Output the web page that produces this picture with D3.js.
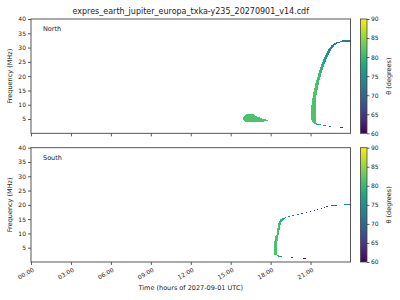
<!DOCTYPE html>
<html><head><meta charset="utf-8">
<script src="https://cdn.jsdelivr.net/npm/d3@7"></script>
<style>
body{margin:0;background:#fff}
svg{display:block}
text{font-family:"DejaVu Sans",sans-serif;fill:#222}
</style>
</head><body>
<svg id="c" width="400" height="300"></svg>
<script>
// ---------------- data ----------------
const chartTitle = "expres_earth_jupiter_europa_txka-y235_20270901_v14.cdf";
const panelNames = ["North", "South"];
const yTicks = [5, 10, 15, 20, 25, 30, 35, 40];
const xTickHours = [0, 3, 6, 9, 12, 15, 18, 21];
const xTickLabels = ["00:00", "03:00", "06:00", "09:00", "12:00", "15:00", "18:00", "21:00"];
const cbTicks = [60, 65, 70, 75, 80, 85, 90];
const xLabel = "Time (hours of 2027-09-01 UTC)";
const yLabel = "Frequency (MHz)";
const cbLabel = "θ (degrees)";

// cells: [tStart (h), tEnd (h), fLow (MHz), fHigh (MHz), theta (deg)]
const northCells = [
  [15.900,15.975,4.8,5.8,81.5],[15.975,16.050,4.3,6.2,81.5],[16.050,16.125,4.1,6.5,81.5],
  [16.125,16.200,4.0,6.7,81.5],[16.200,16.650,3.9,6.75,81.5],[16.650,16.725,3.9,6.6,81.5],
  [16.725,16.800,3.9,6.4,81.5],[16.800,16.875,3.9,6.2,81.5],[16.875,16.950,3.9,6.0,81.5],
  [16.950,17.025,3.95,5.85,81.5],[17.025,17.100,4.0,5.7,81.5],[17.100,17.175,4.0,5.55,81.5],
  [17.175,17.250,4.0,5.4,81.5],[17.250,17.325,4.05,5.25,81.5],[17.325,17.400,4.1,5.1,81.5],
  [17.400,17.475,4.1,5.0,81.5],[17.475,17.550,4.15,4.9,81.5],[17.550,17.625,4.2,4.85,81.5],
  [17.625,17.700,4.2,4.8,81.5],[17.700,17.775,4.25,4.75,81.5],
  [21.000,21.075,4.5,10.0,81.5],[21.075,21.150,4.0,12.5,81.5],[21.150,21.225,3.6,14.3,81.5],
  [21.225,21.300,3.3,16.0,81.5],[21.300,21.375,3.1,17.6,81.5],
  [21.375,21.450,13.4,18.7,81.5],[21.375,21.450,2.95,3.5,80],
  [21.450,21.525,15.2,19.8,81],[21.450,21.525,2.9,3.3,79],
  [21.525,21.600,16.9,21.0,81],
  [21.600,21.675,18.7,22.2,80.5],[21.675,21.750,19.8,23.3,80],[21.750,21.825,21.0,24.1,79.5],
  [21.825,21.900,22.2,24.8,79],[21.900,21.975,23.3,26.0,78.5],[21.975,22.050,24.1,26.7,77.5],
  [22.050,22.125,24.8,27.4,77],[22.125,22.200,26.0,28.0,76.5],[22.200,22.275,26.7,28.7,76],
  [22.275,22.350,27.4,29.4,75.5],[22.350,22.425,28.0,30.0,75],[22.425,22.500,28.7,30.3,74.5],
  [22.500,22.575,29.4,30.8,74],[22.575,22.650,30.0,31.0,73.5],[22.650,22.725,30.3,31.2,73.5],
  [22.725,22.800,30.8,31.5,73],[22.800,22.875,31.0,31.7,73],[22.875,22.950,31.2,31.8,73],
  [22.950,23.025,31.5,31.9,72.5],[23.025,23.100,31.6,32.0,72.5],[23.100,23.175,31.7,32.1,72.5],
  [23.175,23.250,31.8,32.2,72.5],[23.250,23.325,31.9,32.3,72.5],[23.325,24.000,32.0,32.6,72.5],
  [21.525,21.800,2.85,3.2,77],[21.900,22.175,2.6,2.95,74.5],[22.350,22.550,2.35,2.7,71.5],
  [23.175,23.400,1.7,2.05,64]
];

const southCells = [
  [18.225,18.300,2.6,7.5,81.5],[18.300,18.375,2.5,9.0,81.5],[18.375,18.450,2.3,9.6,81.5],
  [18.450,18.525,7.3,12.0,81.5],[18.450,18.525,2.0,2.5,80],
  [18.525,18.600,9.4,13.5,81],[18.525,18.600,1.9,2.35,79],
  [18.600,18.675,11.2,14.4,80.5],[18.600,18.675,1.85,2.25,78],
  [18.675,18.750,12.9,15.0,80],[18.750,18.825,14.0,15.2,79.5],[18.825,18.900,14.4,15.3,78.5],
  [18.900,18.975,14.7,15.4,77.5],[18.975,19.050,14.9,15.5,76.5],
  [19.050,19.180,15.3,15.65,75],[19.275,19.480,15.75,16.1,74],[19.630,19.780,16.1,16.45,72.5],
  [19.970,20.120,16.55,16.9,70],[20.300,20.420,16.8,17.15,66],[20.625,20.720,17.25,17.6,64],
  [20.925,21.020,17.6,17.95,63],[21.225,21.320,17.95,18.3,64],[21.470,21.580,18.2,18.55,63],
  [21.750,21.880,18.55,18.9,64],[21.975,22.100,18.9,19.25,65],[22.180,22.330,19.25,19.6,64],
  [22.550,22.970,19.7,20.05,69.5],[23.500,24.000,19.95,20.3,73.5],
  [18.675,18.825,1.9,2.25,76.5],[19.500,19.700,1.45,1.8,68],[20.450,20.650,1.1,1.45,61]
];

// ---------------- layout ----------------
const svg = d3.select("#c");
const L = 31, R = 350.5;
const panels = [
  {name: panelNames[0], cells: northCells, top: 19, bottom: 133.3, showX: false},
  {name: panelNames[1], cells: southCells, top: 147.7, bottom: 262, showX: true}
];
const cbX0 = 360.5, cbW = 6.5;
const x = d3.scaleLinear().domain([0, 24]).range([L, R]);
const color = d3.scaleSequential(d3.interpolateViridis).domain([60, 90]);

// gradient
const defs = svg.append("defs");
const grad = defs.append("linearGradient").attr("id", "vir")
  .attr("x1", 0).attr("y1", 1).attr("x2", 0).attr("y2", 0);
d3.range(0, 1.0001, 0.05).forEach(s => {
  grad.append("stop").attr("offset", s).attr("stop-color", d3.interpolateViridis(s));
});

svg.append("text").attr("x", (L + R) / 2).attr("y", 13.5)
  .attr("text-anchor", "middle").attr("font-size", 8).text(chartTitle);

panels.forEach(p => {
  const y = d3.scaleLinear().domain([0, 40]).range([p.bottom, p.top]);
  const g = svg.append("g");

  g.append("g").selectAll("rect").data(p.cells).join("rect")
    .attr("x", d => x(d[0]))
    .attr("width", d => x(d[1]) - x(d[0]))
    .attr("y", d => y(d[3]))
    .attr("height", d => y(d[2]) - y(d[3]))
    .attr("fill", d => color(d[4]))
    .attr("shape-rendering", "crispEdges");

  // y axis
  const ya = g.append("g").attr("transform", `translate(${L},0)`)
    .call(d3.axisLeft(y).tickValues(yTicks).tickSize(3).tickPadding(2));
  ya.select(".domain").remove();
  ya.selectAll("line").attr("stroke", "#333").attr("stroke-width", 0.8);
  ya.selectAll("text").attr("font-size", 6).attr("font-family", "DejaVu Sans").attr("fill", "#222");

  // x axis
  const xa = g.append("g").attr("transform", `translate(0,${p.bottom})`)
    .call(d3.axisBottom(x).tickValues(xTickHours).tickSize(3)
      .tickFormat((d, i) => p.showX ? xTickLabels[i] : ""));
  xa.select(".domain").remove();
  xa.selectAll("line").attr("stroke", "#333").attr("stroke-width", 0.8);
  xa.selectAll("text").attr("font-size", 6).attr("font-family", "DejaVu Sans").attr("fill", "#222")
    .attr("text-anchor", "end").attr("y", 0).attr("dy", 0)
    .attr("transform", "translate(3,9) rotate(-30)");

  // frame
  g.append("rect").attr("x", L).attr("y", p.top).attr("width", R - L).attr("height", p.bottom - p.top)
    .attr("fill", "none").attr("stroke", "#444").attr("stroke-width", 0.9);

  g.append("text").attr("x", 43).attr("y", p.top + 12).attr("font-size", 6.5).text(p.name);

  g.append("text").attr("transform", `translate(11.5,${(p.top + p.bottom) / 2}) rotate(-90)`)
    .attr("text-anchor", "middle").attr("font-size", 6.5).text(yLabel);

  // colorbar
  const cy = d3.scaleLinear().domain([60, 90]).range([p.bottom, p.top]);
  g.append("rect").attr("x", cbX0).attr("y", p.top).attr("width", cbW).attr("height", p.bottom - p.top)
    .attr("fill", "url(#vir)").attr("stroke", "#444").attr("stroke-width", 0.8);
  const ca = g.append("g").attr("transform", `translate(${cbX0 + cbW},0)`)
    .call(d3.axisRight(cy).tickValues(cbTicks).tickSize(2.5).tickPadding(1.5));
  ca.select(".domain").remove();
  ca.selectAll("line").attr("stroke", "#333").attr("stroke-width", 0.8);
  ca.selectAll("text").attr("font-size", 6).attr("font-family", "DejaVu Sans").attr("fill", "#222");
  g.append("text").attr("transform", `translate(390.5,${(p.top + p.bottom) / 2}) rotate(-90)`)
    .attr("text-anchor", "middle").attr("font-size", 6.5).text(cbLabel);
});

svg.append("text").attr("x", (L + R) / 2).attr("y", 290)
  .attr("text-anchor", "middle").attr("font-size", 6.5).text(xLabel);
</script>
</body></html>
